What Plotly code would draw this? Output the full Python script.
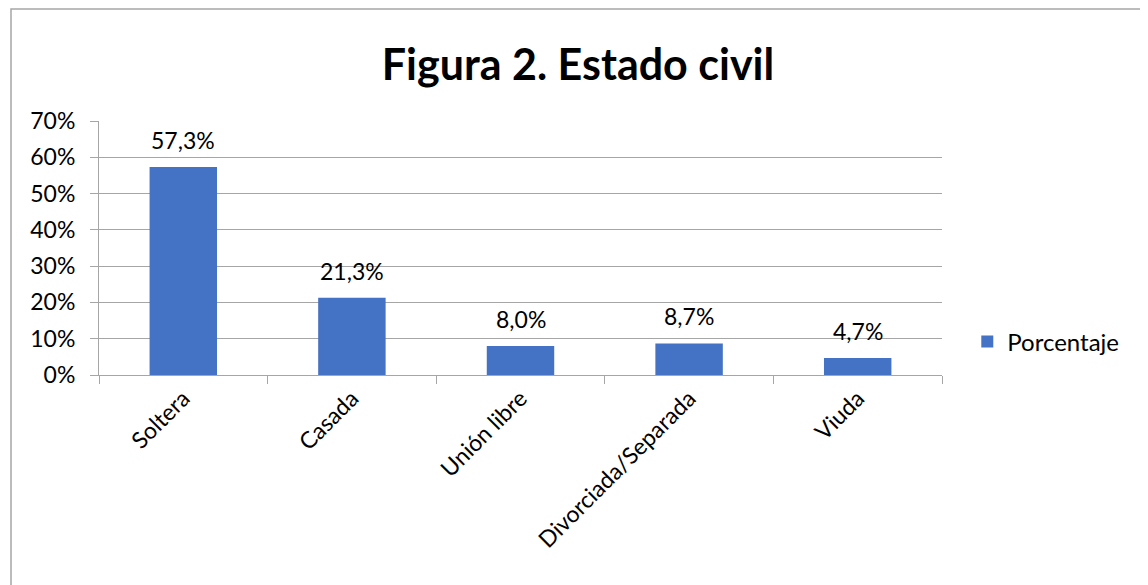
import plotly.graph_objects as go

categories = ["Soltera", "Casada", "Unión libre", "Divorciada/Separada", "Viuda"]
porcentaje = [57.3, 21.3, 8.0, 8.7, 4.7]
series_name = "Porcentaje"
title_text = "Figura 2. Estado civil"

values = [v / 100 for v in porcentaje]
labels = [f"{v:.1f}%".replace(".", ",") for v in porcentaje]

FONT = "Lato, Open Sans, sans-serif"
GRID = "#a6a6a6"
OFF = 8  # default page body margin

fig = go.Figure()
fig.add_trace(go.Bar(
    x=categories, y=values, name=series_name,
    marker=dict(color="#4472C4", line=dict(width=0)),
    width=0.4, showlegend=True,
))

for c, v, t in zip(categories, values, labels):
    fig.add_annotation(x=c, y=v, text=t, showarrow=False, xref="x", yref="y",
                       yanchor="middle", yshift=27,
                       font=dict(family=FONT, size=23, color="black"))

fig.update_layout(
    width=1148, height=585,
    margin=dict(l=99 - OFF, r=1148 - (942 - OFF), t=121 - OFF, b=585 - (375 - OFF)),
    paper_bgcolor="white", plot_bgcolor="white",
    font=dict(family=FONT, size=23, color="black"),
    title=dict(text="<b>" + title_text + "</b>", x=(578 - OFF) / 1148, xanchor="center",
               y=1 - (65 - OFF) / 585, yanchor="middle", xref="container", yref="container",
               font=dict(family=FONT, size=43, color="black")),
    showlegend=True,
    legend=dict(x=1.03, xanchor="left", y=0.13, yanchor="middle",
                font=dict(family=FONT, size=24, color="black"),
                bgcolor="rgba(0,0,0,0)"),
    bargap=0.6,
)

fig.update_yaxes(range=[0, 0.7], dtick=0.1, tickformat=".0%",
                 showgrid=True, gridcolor=GRID, gridwidth=1,
                 showline=True, linecolor=GRID, linewidth=1,
                 ticks="outside", ticklen=8, tickcolor=GRID,
                 ticklabelstandoff=10,
                 zeroline=False, tickfont=dict(size=23))
fig.update_xaxes(showline=True, linecolor=GRID, linewidth=1,
                 ticks="outside", ticklen=8, tickcolor=GRID, tickson="boundaries",
                 tickangle=-45, tickfont=dict(size=23), showgrid=False)

# outer chart border
fig.add_shape(type="rect", xref="paper", yref="paper",
              x0=(11 - 99) / 843, x1=(1152 - 99) / 843, y0=(375 - 592) / 254, y1=(375 - 9) / 254,
              line=dict(color=GRID, width=1.5), fillcolor="rgba(0,0,0,0)", layer="below")

fig.write_html("out.html")
